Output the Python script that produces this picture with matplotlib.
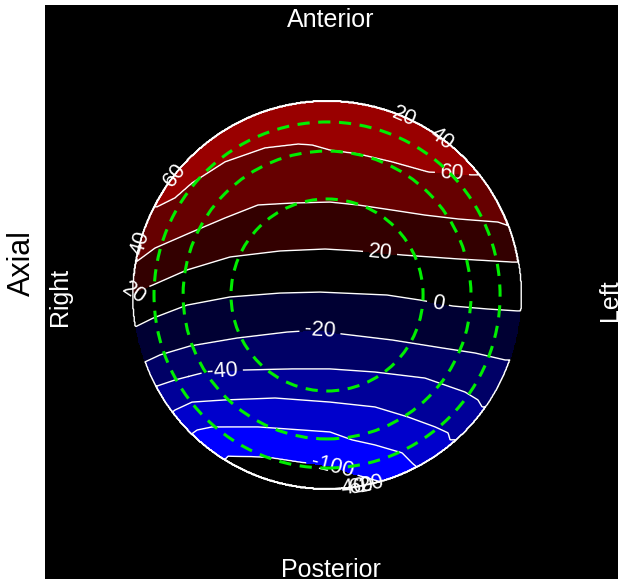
import numpy as np
import matplotlib.pyplot as plt
from matplotlib.patches import Circle

plt.rcParams['font.family'] = ['Liberation Sans', 'DejaVu Sans']

# contour levels and where each contour line crosses the disk (unit radius)
levels = [-100, -80, -60, -40, -20, 0, 20, 40, 60]
fill_levels = [-100, -80, -60, -40, -20, 0, 20, 40, 60, 80]
band_colors = [(0, 0, 1.0), (0, 0, 0.8), (0, 0, 0.6), (0, 0, 0.4), (0, 0, 0.2),
               (0, 0, 0), (0.2, 0, 0), (0.4, 0, 0), (0.6, 0, 0)]

u_m100 = [-0.541, -0.510, -0.309, -0.139, 0.015, 0.155, 0.299]
v_m100 = [-0.861, -0.830, -0.835, -0.861, -0.881, -0.928, -0.969]
u_m80 = [-0.706, -0.670, -0.593, -0.356, 0.015, 0.129, 0.247, 0.387, 0.438, 0.479]
v_m80 = [-0.722, -0.696, -0.680, -0.680, -0.706, -0.747, -0.773, -0.814, -0.866, -0.902]
u_m60 = [-0.835, -0.784, -0.696, -0.526, -0.268, 0.015, 0.247, 0.418, 0.557, 0.624, 0.634]
v_m60 = [-0.634, -0.593, -0.552, -0.541, -0.531, -0.552, -0.577, -0.629, -0.680, -0.711, -0.747]
u_m40 = [-0.876, -0.784, -0.644, -0.438, -0.180, 0.015, 0.247, 0.505, 0.711, 0.778, 0.799]
v_m40 = [-0.469, -0.438, -0.402, -0.387, -0.381, -0.381, -0.397, -0.428, -0.500, -0.541, -0.577]
u_m20 = [-0.938, -0.861, -0.706, -0.464, -0.206, -0.036, 0.077, 0.335, 0.593, 0.763, 0.918]
v_m20 = [-0.345, -0.309, -0.263, -0.222, -0.191, -0.180, -0.201, -0.232, -0.273, -0.299, -0.335]
u_0 = [-0.990, -0.897, -0.722, -0.500, -0.242, -0.036, 0.309, 0.479, 0.649, 0.825, 0.979]
v_0 = [-0.165, -0.119, -0.052, -0.010, 0.010, 0.015, 0.000, -0.026, -0.057, -0.072, -0.082]
u_20 = [-1.000, -0.897, -0.722, -0.500, -0.242, -0.010, 0.160, 0.392, 0.675, 0.954]
v_20 = [0.010, 0.052, 0.129, 0.196, 0.227, 0.237, 0.227, 0.206, 0.186, 0.170]
u_40 = [-1.005, -0.887, -0.696, -0.526, -0.356, -0.180, 0.015, 0.160, 0.335, 0.505, 0.675, 0.881, 0.969]
v_40 = [0.155, 0.242, 0.325, 0.397, 0.464, 0.474, 0.479, 0.464, 0.438, 0.412, 0.392, 0.376, 0.345]
u_60 = [-0.876, -0.784, -0.696, -0.526, -0.320, -0.149, -0.077, 0.015, 0.160, 0.335, 0.521, 0.747]
v_60 = [0.454, 0.500, 0.577, 0.686, 0.758, 0.778, 0.773, 0.747, 0.727, 0.686, 0.634, 0.619]

# values beyond the outermost lines
bottom_value, top_value = -120, 80

ring_radii = [0.495, 0.742, 0.892]

# where the contour labels sit, per level
label_spots = {
    60: [(0.644, 0.634), (-0.809, 0.644)],
    40: [(0.598, 0.814), (-1.015, 0.284)],
    20: [(0.412, 0.954), (-1.026, -0.015), (0.273, 0.216)],
    0: [(0.572, -0.041)],
    -20: [(-0.036, -0.180), (0.211, -0.974)],
    -40: [(-0.541, -0.387), (0.119, -0.995)],
    -60: [(0.16, -0.99)],
    -100: [(0.041, -0.861)],
}

lines = [(u_m100, v_m100), (u_m80, v_m80), (u_m60, v_m60), (u_m40, v_m40), (u_m20, v_m20),
         (u_0, v_0), (u_20, v_20), (u_40, v_40), (u_60, v_60)]

grid = np.linspace(-1.05, 1.05, 601)
U, V = np.meshgrid(grid, grid)
z = np.zeros_like(U)
for j, u in enumerate(grid):
    vk = [-1.3] + [np.interp(u, cu, cv) for cu, cv in lines] + [1.3]
    vals = [bottom_value] + levels + [top_value]
    z[:, j] = np.interp(grid, vk, vals)

inside = U ** 2 + V ** 2 <= 1.0
z_fill = np.ma.masked_where(~inside, z)
z_line = np.where(inside, z, 0.0)

fig = plt.figure(figsize=(6.18, 5.79), dpi=100, facecolor='white')
ax = fig.add_axes([45 / 618, -6 / 579, 580 / 618, 580 / 579])
ax.set_facecolor('black')
ax.set_xlim(-1.454, 1.536)
ax.set_ylim(-1.495, 1.495)
ax.set_xticks([])
ax.set_yticks([])
for s in ax.spines.values():
    s.set_visible(False)

ax.contourf(U, V, z_fill, levels=fill_levels, colors=band_colors)

for lev in levels:
    cs = ax.contour(U, V, z_line, levels=[lev], colors='white', linewidths=1.0,
                    linestyles='solid', negative_linestyles='solid')
    if lev in label_spots:
        ax.clabel(cs, manual=label_spots[lev], inline=True, fontsize=15.5,
                  colors='white', fmt='%d')

for r in ring_radii:
    ax.add_patch(Circle((0, 0), r, fill=False, ec='#00ee00', lw=2.2,
                        ls=(0, (4, 2.8)), zorder=5))

ax.text(0.021, 1.418, 'Anterior', color='white', fontsize=18, ha='center', va='center')
ax.text(0.021, -1.418, 'Posterior', color='white', fontsize=18, ha='center', va='center')
ax.text(-1.376, -0.01, 'Right', color='white', fontsize=18, rotation=90, ha='center', va='center')
ax.text(1.459, -0.026, 'Left', color='white', fontsize=18, rotation=90, ha='center', va='center')
fig.text(22 / 618, 1 - 263 / 579, 'Axial', fontsize=22, rotation=90, ha='center', va='center')

fig.savefig('out.png', dpi=100, facecolor='white')
